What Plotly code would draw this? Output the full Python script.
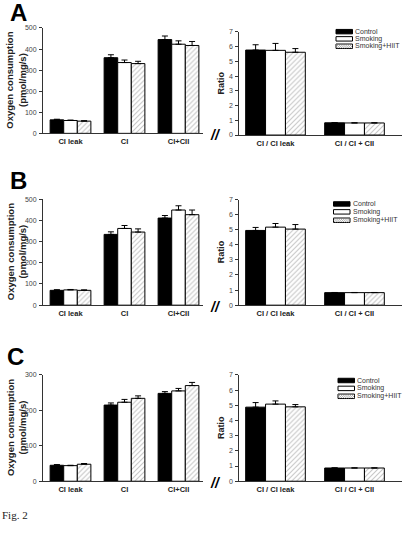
import plotly.graph_objects as go

# ---------------- data ----------------
cats_left = ["CI leak", "CI", "CI+CII"]
cats_right = ["CI / CI leak", "CI / CI + CII"]
series_names = ["Control", "Smoking", "Smoking+HIIT"]

# Panel A
A_oxy_control = [64, 359, 445]
A_oxy_control_err = [3, 14, 17]
A_oxy_smoking = [61, 336, 423]
A_oxy_smoking_err = [2, 12, 16]
A_oxy_hiit = [58, 331, 417]
A_oxy_hiit_err = [2, 11, 19]
A_ratio_control = [5.77, 0.83]
A_ratio_control_err = [0.36, 0.01]
A_ratio_smoking = [5.75, 0.82]
A_ratio_smoking_err = [0.47, 0.01]
A_ratio_hiit = [5.62, 0.82]
A_ratio_hiit_err = [0.25, 0.01]

# Panel B
B_oxy_control = [70, 334, 411]
B_oxy_control_err = [3, 12, 12]
B_oxy_smoking = [72, 362, 449]
B_oxy_smoking_err = [2, 14, 20]
B_oxy_hiit = [70, 345, 427]
B_oxy_hiit_err = [2, 15, 22]
B_ratio_control = [4.95, 0.83]
B_ratio_control_err = [0.20, 0.01]
B_ratio_smoking = [5.17, 0.83]
B_ratio_smoking_err = [0.24, 0.01]
B_ratio_hiit = [5.04, 0.83]
B_ratio_hiit_err = [0.30, 0.01]

# Panel C
C_oxy_control = [45, 215, 248]
C_oxy_control_err = [2, 6, 5]
C_oxy_smoking = [44, 223, 255]
C_oxy_smoking_err = [1, 8, 7]
C_oxy_hiit = [48, 234, 270]
C_oxy_hiit_err = [2, 7, 9]
C_ratio_control = [4.88, 0.87]
C_ratio_control_err = [0.30, 0.01]
C_ratio_smoking = [5.08, 0.87]
C_ratio_smoking_err = [0.21, 0.01]
C_ratio_hiit = [4.90, 0.87]
C_ratio_hiit_err = [0.15, 0.01]

oxy_ticks_AB = [0, 100, 200, 300, 400, 500]
oxy_ticks_C = [0, 100, 200, 300]
ratio_ticks = [0, 1, 2, 3, 4, 5, 6, 7]

# ---------------- layout helpers ----------------
W, H = 407, 556


def fx(px):
    return px / W


def fy(py):
    return 1 - py / H


FONT = "Arial, Liberation Sans, sans-serif"
AX = "#333333"

panels = [
    dict(letter="A",
         oxy=[(A_oxy_control, A_oxy_control_err), (A_oxy_smoking, A_oxy_smoking_err), (A_oxy_hiit, A_oxy_hiit_err)],
         ratio=[(A_ratio_control, A_ratio_control_err), (A_ratio_smoking, A_ratio_smoking_err), (A_ratio_hiit, A_ratio_hiit_err)],
         oxy_max=500, oxy_ticks=oxy_ticks_AB,
         ly=(131, 24.3), ry=(132.7, 28.3), letter_pos=(18, 9),
         legend=(336, [28, 35.3, 42.8])),
    dict(letter="B",
         oxy=[(B_oxy_control, B_oxy_control_err), (B_oxy_smoking, B_oxy_smoking_err), (B_oxy_hiit, B_oxy_hiit_err)],
         ratio=[(B_ratio_control, B_ratio_control_err), (B_ratio_smoking, B_ratio_smoking_err), (B_ratio_hiit, B_ratio_hiit_err)],
         oxy_max=500, oxy_ticks=oxy_ticks_AB,
         ly=(305, 197.7), ry=(305, 198), letter_pos=(18, 178.5),
         legend=(333.5, [202.5, 210.5, 219])),
    dict(letter="C",
         oxy=[(C_oxy_control, C_oxy_control_err), (C_oxy_smoking, C_oxy_smoking_err), (C_oxy_hiit, C_oxy_hiit_err)],
         ratio=[(C_ratio_control, C_ratio_control_err), (C_ratio_smoking, C_ratio_smoking_err), (C_ratio_hiit, C_ratio_hiit_err)],
         oxy_max=300, oxy_ticks=oxy_ticks_C,
         ly=(483.3, 375.7), ry=(483.3, 375.7), letter_pos=(15.5, 357.5),
         legend=(338, [381.3, 389.3, 397.3])),
]

styles = [
    dict(marker=dict(color="black", line=dict(color="black", width=1))),
    dict(marker=dict(color="white", line=dict(color="black", width=1))),
    dict(marker=dict(color="white", line=dict(color="black", width=1),
                     pattern=dict(shape="/", fgcolor="#8a8a8a", bgcolor="white", size=3.5, solidity=0.3))),
]

LEFT_X = (43, 203)
RIGHT_X = (239.4, 402)
LEFT_RANGE = [(43 - 70.5) / 54, (203 - 70.5) / 54]
RIGHT_RANGE = [(239.4 - 275.5) / 79, (402 - 275.5) / 79]

fig = go.Figure()
layout = {}
annotations = []
shapes = []

for i, p in enumerate(panels):
    li = 2 * i + 1
    ri = 2 * i + 2
    for idx, (side, cats) in enumerate([("left", cats_left), ("right", cats_right)]):
        ax_i = li if side == "left" else ri
        xa = "x" if ax_i == 1 else f"x{ax_i}"
        ya = "y" if ax_i == 1 else f"y{ax_i}"
        data = p["oxy"] if side == "left" else p["ratio"]
        for s, (vals, errs) in enumerate(data):
            fig.add_trace(go.Bar(
                x=cats, y=vals, name=series_names[s], showlegend=False,
                xaxis=xa, yaxis=ya, offsetgroup=str(s),
                error_y=dict(type="data", symmetric=False, array=errs,
                             arrayminus=[0] * len(errs), color="black",
                             thickness=1, width=3),
                **styles[s]))
        xkey = "xaxis" if ax_i == 1 else f"xaxis{ax_i}"
        ykey = "yaxis" if ax_i == 1 else f"yaxis{ax_i}"
        xpx = LEFT_X if side == "left" else RIGHT_X
        ypx = p["ly"] if side == "left" else p["ry"]
        layout[xkey] = dict(
            domain=[fx(xpx[0]), fx(xpx[1])], anchor=ya,
            type="category", categoryorder="array", categoryarray=cats,
            range=LEFT_RANGE if side == "left" else RIGHT_RANGE,
            showline=True, linecolor=AX, linewidth=1, ticks="",
            showgrid=False, zeroline=False,
            tickfont=dict(family=FONT, size=7.5, color="#222", weight="bold"),
            ticklabelstandoff=1, fixedrange=True)
        if side == "left":
            yr = [0, p["oxy_max"]]
            tv = p["oxy_ticks"]
        else:
            yr = [0, 7]
            tv = ratio_ticks
        layout[ykey] = dict(
            domain=[fy(ypx[0]), fy(ypx[1])], anchor=xa, range=yr,
            tickmode="array", tickvals=tv,
            showline=True, linecolor=AX, linewidth=1,
            ticks="outside", ticklen=3, tickwidth=1, tickcolor=AX,
            showgrid=False, zeroline=False,
            tickfont=dict(family=FONT, size=7, color="#444"),
            ticklabelstandoff=1, fixedrange=True)

    # axis titles
    lyc = (p["ly"][0] + p["ly"][1]) / 2
    ryc = (p["ry"][0] + p["ry"][1]) / 2
    annotations.append(dict(
        x=fx(16), y=fy(lyc), xref="paper", yref="paper", showarrow=False,
        text="<b>Oxygen consumption<br>(pmol/mg/s)</b>", textangle=-90,
        font=dict(family=FONT, size=9.5, color="#222"),
        xanchor="center", yanchor="middle"))
    annotations.append(dict(
        x=fx(221), y=fy(ryc), xref="paper", yref="paper", showarrow=False,
        text="<b>Ratio</b>", textangle=-90,
        font=dict(family=FONT, size=9, color="#222"),
        xanchor="center", yanchor="middle"))
    # panel letter
    annotations.append(dict(
        x=fx(p["letter_pos"][0]), y=fy(p["letter_pos"][1]), xref="paper", yref="paper",
        showarrow=False, text=f"<b>{p['letter']}</b>",
        font=dict(family=FONT, size=24, color="black"),
        xanchor="center", yanchor="middle"))
    # axis break mark
    annotations.append(dict(
        x=fx(216), y=fy(p["ly"][0] + 1.5), xref="paper", yref="paper",
        showarrow=False, text="<b><i>//</i></b>",
        font=dict(family=FONT, size=14, color="black"),
        xanchor="center", yanchor="middle"))
    # custom legend
    lx, rows = p["legend"]
    sw_w, sw_h = 16.5, 4.5
    for s, yc in enumerate(rows):
        x0, x1 = lx, lx + sw_w
        y0, y1 = yc - sw_h / 2, yc + sw_h / 2
        fill = "black" if s == 0 else "white"
        shapes.append(dict(type="rect", xref="paper", yref="paper",
                           x0=fx(x0), x1=fx(x1), y0=fy(y1), y1=fy(y0),
                           fillcolor=fill, line=dict(color="black", width=1)))
        if s == 2:
            step = 2.2
            c = step
            while c < sw_w + sw_h:
                ta = max(0, c - sw_h)
                tb = min(sw_w, c)
                shapes.append(dict(type="line", xref="paper", yref="paper",
                                   x0=fx(x0 + ta), y0=fy(y1 - (c - ta)),
                                   x1=fx(x0 + tb), y1=fy(y1 - (c - tb)),
                                   line=dict(color="#8a8a8a", width=0.7)))
                c += step
        annotations.append(dict(
            x=fx(x1 + 1.5), y=fy(yc), xref="paper", yref="paper", showarrow=False,
            text=series_names[s], font=dict(family=FONT, size=7, color="#333"),
            xanchor="left", yanchor="middle", borderpad=0))

annotations.append(dict(
    x=0, y=fy(517.5), xref="paper", yref="paper", showarrow=False,
    text="Fig. 2", font=dict(family="Times New Roman, Liberation Serif, serif", size=11, color="#222"),
    xanchor="left", yanchor="middle"))

fig.update_layout(
    width=W, height=H, margin=dict(l=0, r=0, t=0, b=0),
    paper_bgcolor="white", plot_bgcolor="white",
    barmode="group", bargap=0.245, bargroupgap=0,
    showlegend=False, annotations=annotations, shapes=shapes,
    **layout)

fig.write_html("out.html")
